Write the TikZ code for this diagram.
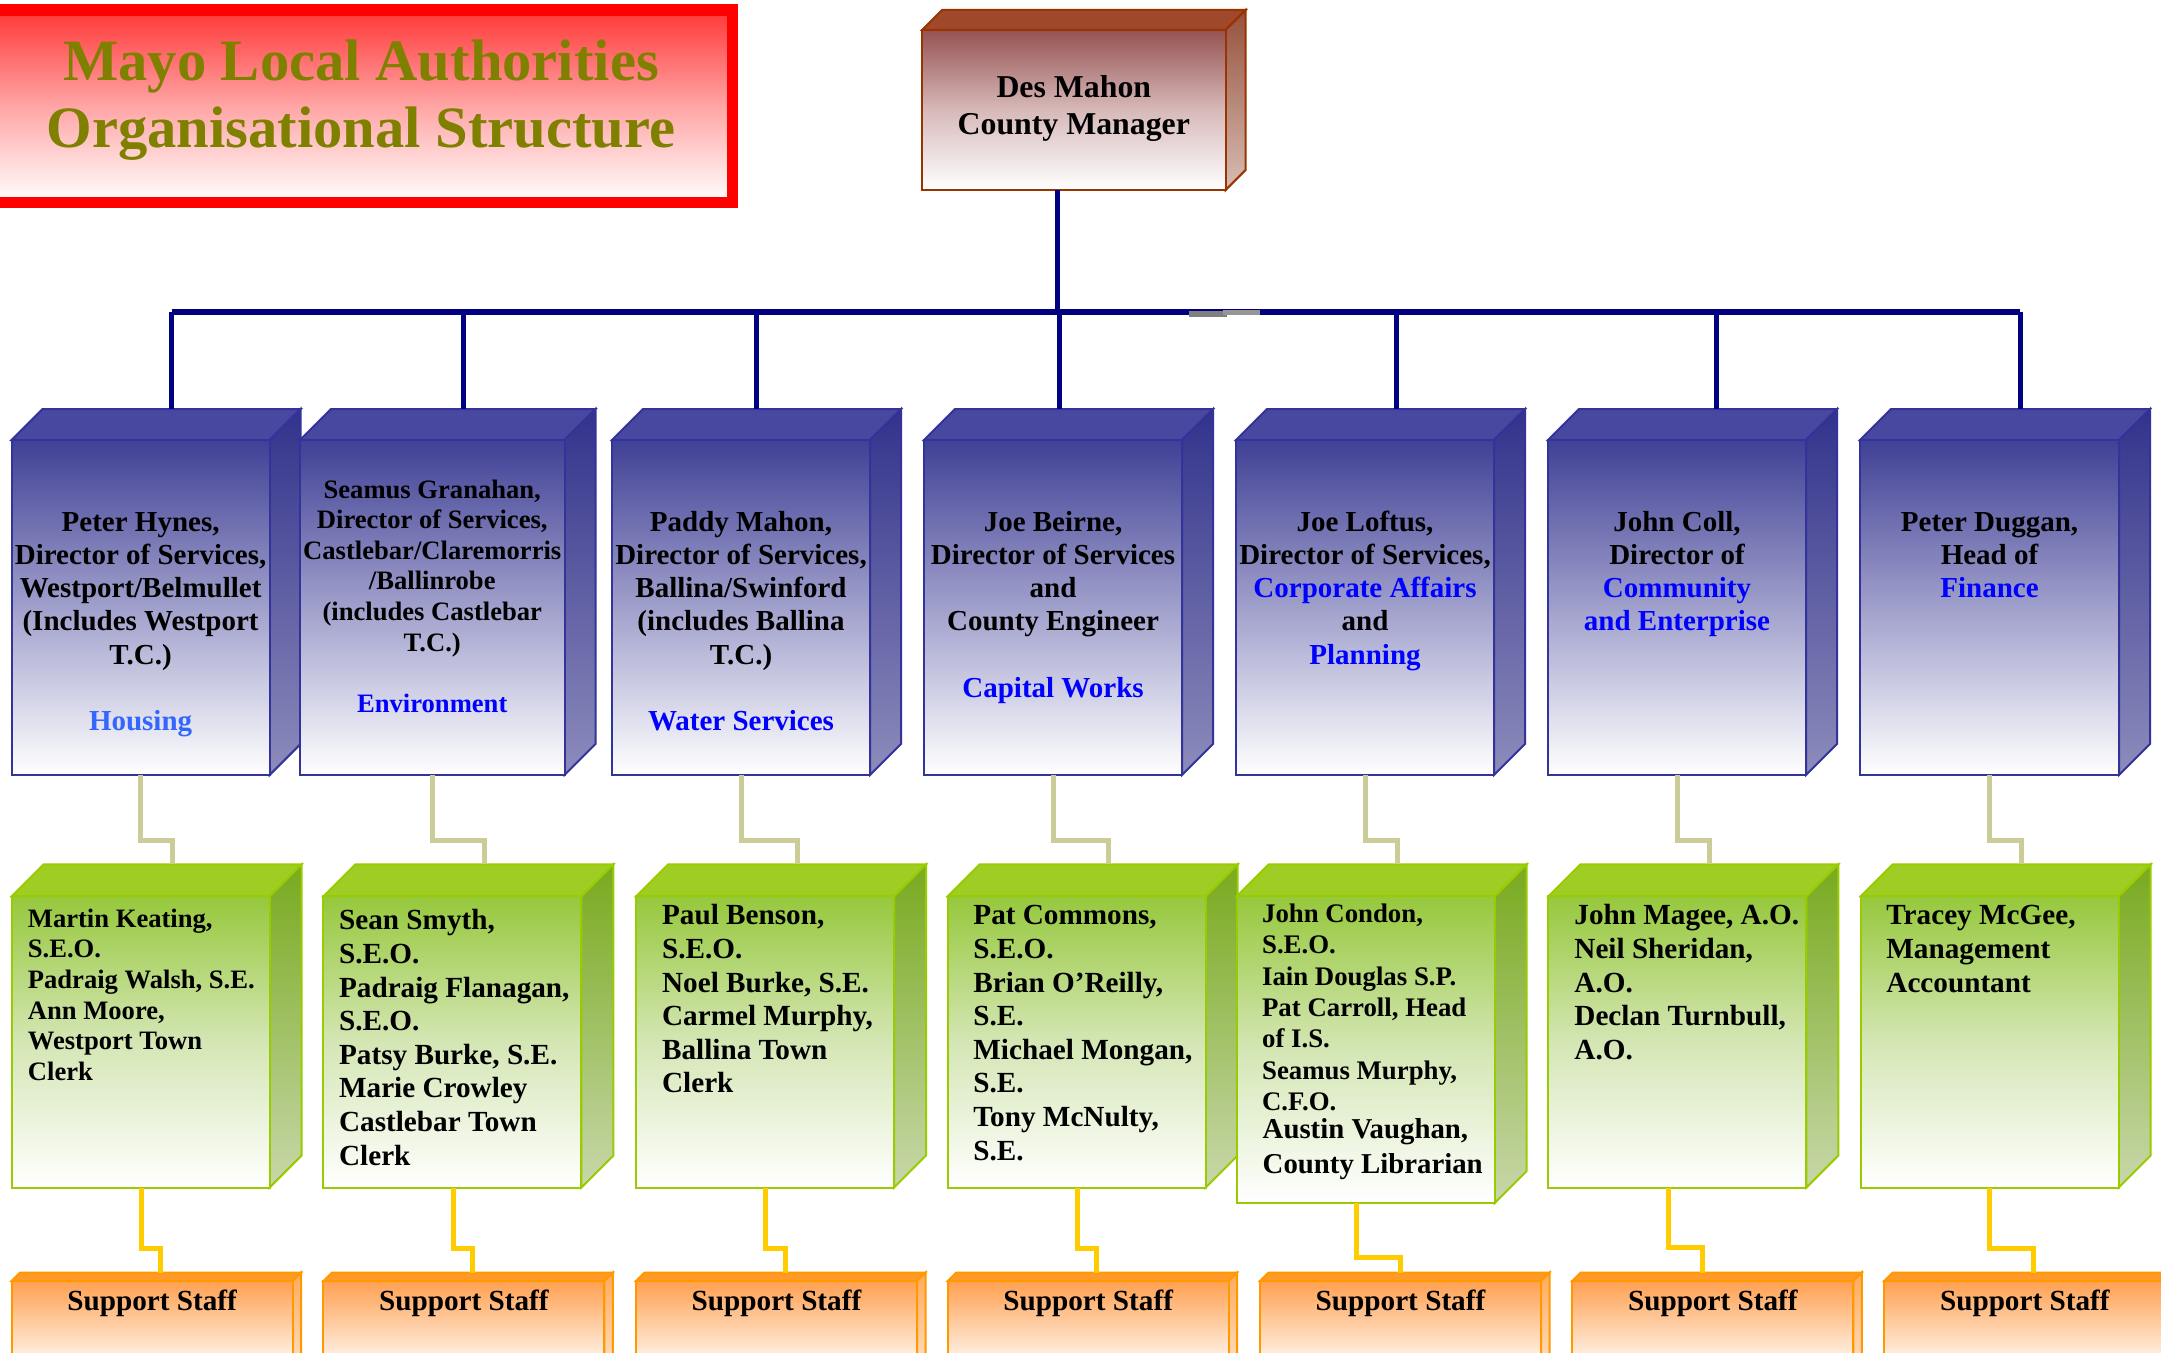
\documentclass[tikz,border=0pt]{standalone}
\usepackage{fontspec}
\setmainfont{Liberation Serif}
\definecolor{cNavy}{RGB}{0,0,128}
\definecolor{cBtop}{RGB}{72,72,160}
\definecolor{cBfront}{RGB}{64,64,150}
\definecolor{cBmid}{RGB}{160,160,204}
\definecolor{cBedge}{RGB}{51,51,153}
\definecolor{cBsideT}{RGB}{50,50,140}
\definecolor{cBsideB}{RGB}{140,140,188}
\definecolor{cMtop}{RGB}{160,72,42}
\definecolor{cMfront}{RGB}{150,82,82}
\definecolor{cMmid}{RGB}{215,185,185}
\definecolor{cMedge}{RGB}{153,51,0}
\definecolor{cMsideT}{RGB}{150,80,60}
\definecolor{cMsideB}{RGB}{215,190,180}
\definecolor{cGtop}{RGB}{160,205,35}
\definecolor{cGfront}{RGB}{150,200,60}
\definecolor{cGmid}{RGB}{212,230,180}
\definecolor{cGedge}{RGB}{153,204,0}
\definecolor{cGsideT}{RGB}{120,170,30}
\definecolor{cGsideB}{RGB}{200,215,170}
\definecolor{cOtop}{RGB}{255,153,40}
\definecolor{cOfront}{RGB}{255,160,80}
\definecolor{cOedge}{RGB}{255,153,0}
\definecolor{cOsideT}{RGB}{255,170,90}
\definecolor{cOsideB}{RGB}{255,225,200}
\definecolor{cTred}{RGB}{255,0,0}
\definecolor{cTtop}{RGB}{255,55,55}
\definecolor{cTmid}{RGB}{255,165,165}
\definecolor{cOlive}{RGB}{128,128,0}
\definecolor{cHous}{RGB}{51,102,255}
\definecolor{cDblue}{RGB}{0,0,255}
\definecolor{cTan}{RGB}{204,204,153}
\definecolor{cYel}{RGB}{255,204,0}
\definecolor{cGrayA}{RGB}{128,128,128}
\definecolor{cGrayB}{RGB}{150,150,150}
\newcommand\firstln{\rule{0pt}{0.8em}}
\newcommand\cuboid[7]{%
  \filldraw[#7top] (#2,#3) -- ++(#6,-#6) -- ++(#4,0) -- ++(-#6,#6) -- cycle;
  \shadedraw[#7side] ({#2+#4},#3) -- ++(#6,-#6) -- ++(0,#5) -- ++(-#6,#6) -- cycle;
  \node[#7front, minimum width={#4*0.5pt}, minimum height={#5*0.5pt}, anchor=north west] (#1) at (#2,#3) {};
  \coordinate (#1-top) at ({#2+#6+#4/2},{#3-#6});
}
\tikzset{
  facebase/.style={rectangle, inner sep=0pt, outer sep=0pt, line width=1pt},
  bluetop/.style={fill=cBtop, draw=cBedge, line width=1pt},
  blueside/.style={top color=cBsideT, bottom color=cBsideB, draw=cBedge, line width=1pt},
  bluefront/.style={facebase, draw=cBedge, top color=cBfront, bottom color=white, middle color=cBmid},
  browntop/.style={fill=cMtop, draw=cMedge, line width=1pt},
  brownside/.style={top color=cMsideT, bottom color=cMsideB, draw=cMedge, line width=1pt},
  brownfront/.style={facebase, draw=cMedge, top color=cMfront, bottom color=white, middle color=cMmid},
  greentop/.style={fill=cGtop, draw=cGedge, line width=1pt},
  greenside/.style={top color=cGsideT, bottom color=cGsideB, draw=cGedge, line width=1pt},
  greenfront/.style={facebase, draw=cGedge, top color=cGfront, bottom color=white, middle color=cGmid},
  orangetop/.style={fill=cOtop, draw=cOedge, line width=1pt},
  orangeside/.style={top color=cOsideT, bottom color=cOsideB, draw=cOedge, line width=1pt},
  orangefront/.style={facebase, draw=cOedge, top color=cOfront, bottom color=white},
  navyline/.style={draw=cNavy, line width=2.5pt},
  busline/.style={draw=cNavy, line width=3pt},
  tanline/.style={draw=cTan, line width=2.5pt},
  yelline/.style={draw=cYel, line width=2.5pt},
  dirtext/.style={align=center, inner sep=0pt, anchor=north, font=\fontsize{14.5}{16.65}\selectfont\bfseries},
  dirsmall/.style={dirtext, font=\fontsize{13.3}{15.3}\selectfont\bfseries},
  stafftext/.style={align=left, inner sep=0pt, anchor=north west, font=\fontsize{14.6}{16.8}\selectfont\bfseries},
  suptext/.style={inner sep=0pt, anchor=base, font=\fontsize{14.6}{16.8}\selectfont\bfseries},
  mgrtext/.style={align=center, inner sep=0pt, anchor=north, font=\fontsize{15.9}{18.5}\selectfont\bfseries},
  titletext/.style={align=center, inner sep=0pt, anchor=north, text=cOlive, font=\fontsize{29.3}{33.5}\selectfont\bfseries},
}
\begin{document}
\begin{tikzpicture}[x=0.5pt,y=-0.5pt]
\useasboundingbox (0,0) rectangle (2161,1353);
\clip (0,0) rectangle (2161,1353);
\fill[white] (0,0) rectangle (2161,1353);

% title box
\shadedraw[draw=cTred, line width=5.75pt, top color=cTtop, bottom color=white, middle color=cTmid] (-20,10) rectangle (732.5,202.5);
\node[titletext] (title) at (361,33.5) {\firstln Mayo Local Authorities\\Organisational Structure};

% manager
\cuboid{mgr}{922}{30}{303.6}{160}{20}{brown}
\node[mgrtext] (mgrt) at (mgr.north |- 0,72) {\firstln Des Mahon\\County Manager};

% director boxes
\foreach \n/\L/\W in {1/11.6/258,2/300/264.5,3/612/258,4/924/258,5/1236/258,6/1548/258,7/1860/259}
  {\cuboid{b\n}{\L}{440}{\W}{335}{31}{blue}}
% staff boxes
\foreach \n/\L/\H in {1/11.6/291.1,2/323.4/291.1,3/636/291.1,4/947.7/291.1,5/1236.7/306.6,6/1548.3/291.1,7/1860.7/291.1}
  {\cuboid{g\n}{\L}{896.4}{258}{\H}{32}{green}}
% support boxes
\foreach \n/\L in {1/11.6,2/323.4,3/636,4/947.7,5/1260,6/1572.3,7/1884.3}
  {\cuboid{o\n}{\L}{1281}{281}{90}{8.5}{orange}}

% bus and drops
\coordinate (busL) at (171.6,312);
\coordinate (busR) at (2020.3,312);
\coordinate (mgrfoot) at (1057,190);
\draw[navyline] (mgrfoot) -- (mgrfoot |- busL);
\draw[busline] (busL) -- (busR);
\foreach \n/\x in {1/171.6,2/463.5,3/756,4/1059.7,5/1396,6/1716.7,7/2020.3}
  {\draw[navyline] (busL -| \x,0) -- (b\n-top -| \x,0);}
\fill[cGrayA] (1189,311) rectangle (1227,317);
\fill[cGrayB] (1223,309.7) rectangle (1260,315);

% tan connectors
\foreach \n in {1,...,7}
  {\draw[tanline] (b\n.south) -- ++(0,65.6) -| (g\n-top);}
% yellow connectors
\foreach \n/\sx/\hy/\ex in {1/141/1248/160.5,2/453/1248/472.6,3/765/1248/785,4/1077/1248/1096.7,5/1356/1257/1400.7,6/1668.3/1247/1702.7,7/1989/1248.4/2033.3}
  {\draw[yelline] (g\n.south -| \sx,0) -- (\sx,\hy) -- (\ex,\hy) -- (o\n-top -| \ex,0);}

% director texts
\node[dirtext] (t1) at (b1.north |- 0,507.4) {\firstln Peter Hynes,\\Director of Services,\\Westport/Belmullet\\(Includes Westport\\T.C.)\\[16.65pt]\textcolor{cHous}{Housing}};
\node[dirsmall] (t2) at (b2.north |- 0,476.5) {\firstln Seamus Granahan,\\Director of Services,\\Castlebar/Claremorris\\/Ballinrobe\\(includes Castlebar\\T.C.)\\[15.3pt]\textcolor{cDblue}{Environment}};
\node[dirtext] (t3) at (b3.north |- 0,507.4) {\firstln Paddy Mahon,\\Director of Services,\\Ballina/Swinford\\(includes Ballina\\T.C.)\\[16.65pt]\textcolor{cDblue}{Water Services}};
\node[dirtext] (t4) at (b4.north |- 0,507.4) {\firstln Joe Beirne,\\Director of Services\\and\\County Engineer\\[16.65pt]\textcolor{cDblue}{Capital Works}};
\node[dirtext] (t5) at (b5.north |- 0,507.4) {\firstln Joe Loftus,\\Director of Services,\\\textcolor{cDblue}{Corporate Affairs}\\and\\\textcolor{cDblue}{Planning}};
\node[dirtext] (t6) at (b6.north |- 0,507.4) {\firstln John Coll,\\Director of\\\textcolor{cDblue}{Community}\\\textcolor{cDblue}{and Enterprise}};
\node[dirtext] (t7) at (b7.north |- 0,507.4) {\firstln Peter Duggan,\\Head of\\\textcolor{cDblue}{Finance}};

% staff texts
\node[stafftext, font=\fontsize{13.3}{15.35}\selectfont\bfseries] (s1) at (27.5,905.5) {\firstln Martin Keating,\\S.E.O.\\Padraig Walsh, S.E.\\Ann Moore,\\Westport Town\\Clerk};
\node[stafftext] (s2) at (338.7,906.2) {\firstln Sean Smyth,\\S.E.O.\\Padraig Flanagan,\\S.E.O.\\Patsy Burke, S.E.\\Marie Crowley\\Castlebar Town\\Clerk};
\node[stafftext] (s3) at (661.7,901.2) {\firstln Paul Benson,\\S.E.O.\\Noel Burke, S.E.\\Carmel Murphy,\\Ballina Town\\Clerk};
\node[stafftext] (s4) at (973,901.2) {\firstln Pat Commons,\\S.E.O.\\Brian O’Reilly,\\S.E.\\Michael Mongan,\\S.E.\\Tony McNulty,\\S.E.};
\node[stafftext, font=\fontsize{13.4}{15.7}\selectfont\bfseries] (s5) at (1261.7,900.4) {\firstln John Condon,\\S.E.O.\\Iain Douglas S.P.\\Pat Carroll, Head\\of I.S.\\Seamus Murphy,\\C.F.O.};
\node[stafftext, font=\fontsize{14.4}{17.5}\selectfont\bfseries] (s5b) at (1262.3,1115.3) {\firstln Austin Vaughan,\\County Librarian};
\node[stafftext] (s6) at (1574,901.2) {\firstln John Magee, A.O.\\Neil Sheridan,\\A.O.\\Declan Turnbull,\\A.O.};
\node[stafftext] (s7) at (1886,901.2) {\firstln Tracey McGee,\\Management\\Accountant};

% support staff texts
\foreach \n in {1,...,7}
  {\node[suptext] (u\n) at (o\n.north |- 0,1310.7) {Support Staff};}
\end{tikzpicture}
\end{document}
